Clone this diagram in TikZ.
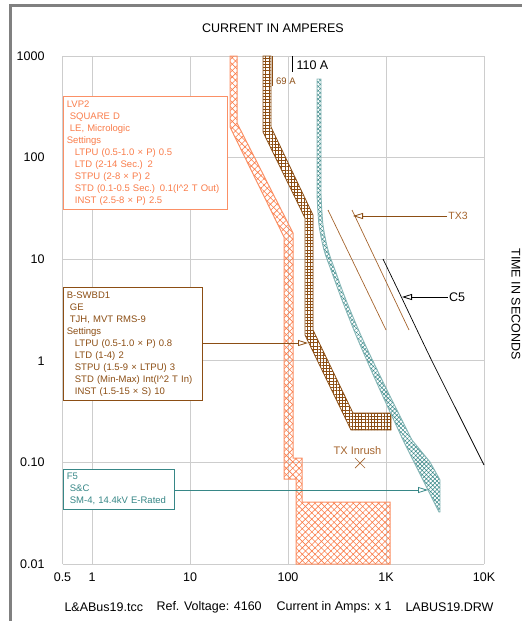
\documentclass[tikz,border=0pt]{standalone}
\usepackage{fontspec}
\setmainfont{Liberation Sans}
\usetikzlibrary{patterns.meta}
\usetikzlibrary{arrows.meta}
\definecolor{lvpcol}{RGB}{250,125,75}
\definecolor{swbdcol}{RGB}{140,78,20}
\definecolor{fcol}{RGB}{55,135,135}
\definecolor{txcol}{RGB}{165,100,45}
\definecolor{gridcol}{RGB}{205,205,205}
\tikzset{gridline/.style={draw=gridcol, line width=0.8pt},
 setbox/.style={draw, fill=white, line width=0.8pt, align=left, anchor=north west,
   inner xsep=3.5pt, inner ysep=4pt, font=\fontsize{9.5}{12}\selectfont},
 axlabel/.style={font=\fontsize{12.5}{14}\selectfont},
 tag/.style={-{Triangle[open, length=10pt, width=6pt]}, line width=0.8pt},
 }

\begin{document}
\begin{tikzpicture}[x=1pt, y=-1pt]
        \useasboundingbox (0,0) rectangle (522,621);
        \draw[gray, line width=2.2pt] (10.5,621) -- (10.5,5.5) -- (522,5.5);

        % grid
        \foreach \x in {62.5, 92, 190, 288, 386, 484} {
            \draw[gridline] (\x, 56) -- (\x, 564);
        }
        \foreach \y in {56, 157.6, 259.2, 360.8, 462.4, 564} {
            \draw[gridline] (62.5, \y) -- (484, \y);
        }
        \foreach \y/\t[count=\i] in {56/1000, 157.6/100, 259.2/10, 360.8/1, 462.4/0.10, 564/0.01} {
            \node[axlabel, anchor=east] (ylab\i) at (48, \y) {\t};
        }
        \foreach \x/\t[count=\i] in {62.5/0.5, 92/1, 190/10, 288/100, 386/1K, 484/10K} {
            \node[axlabel] (xlab\i) at (\x, 577) {\t};
        }
        \node[axlabel] (xtitle) at (273, 28) {CURRENT IN AMPERES};
        \node[axlabel, rotate=-90] (ytitle) at (516, 304) {TIME IN SECONDS};

        \node[axlabel, anchor=west] (foot1) at (61, 607) {L\&ABus19.tcc};
        \node[axlabel, anchor=west] (foot2) at (153, 607) {Ref. Voltage: 4160};
        \node[axlabel, anchor=west] (foot3) at (273, 607) {Current in Amps: x 1};
        \node[axlabel, anchor=west] (foot4) at (402, 607) {LABUS19.DRW};

        % LVP2
        \draw[lvpcol!85, line width=1pt, pattern={Hatch[angle=45, distance=4.5pt, line width=0.6pt]}, pattern color=lvpcol]
            (230,56) -- (230,127) -- (284,237) -- (284,479) -- (296,479) -- (296,564) -- (390,564)
            -- (390,502) -- (302,502) -- (302,458) -- (293,458) -- (293,233) -- (237,123) -- (237,56) -- cycle;

        % B-SWBD1
        \draw[swbdcol, line width=0.8pt, pattern={Hatch[angle=0, distance=3.2pt, line width=0.5pt]}, pattern color=swbdcol]
            (263,56) -- (263,132) -- (305,218) -- (305,335) -- (351,430) -- (391,430) -- (391,413)
            -- (353,413) -- (313,330) -- (313,215) -- (271,127) -- (271,56) -- cycle;

        % F5
        \draw[fcol!60, line width=0.9pt, pattern={Hatch[angle=45, distance=3pt, line width=0.5pt]}, pattern color=fcol]
            (317,79) -- plot[smooth] coordinates {(317,195) (319,225) (324,250) (331,270) (342,300) (358,340) (380,390) (403,440)}
            -- (439,512) -- (440,512) -- (440,480) -- (430,462)
            -- plot[smooth] coordinates {(412,440) (387,390) (363,340) (346,300) (335,270) (328,250) (323,225) (321,195)}
            -- (321,79) -- cycle;

        % TX3 and C5
        \draw[txcol, line width=0.7pt] (328,210) -- (386,330);
        \draw[txcol, line width=0.7pt] (352,210) -- (409,330);
        \draw[line width=0.7pt] plot[smooth] coordinates {(383,259) (398,290) (430,357) (460,417) (484,465)};

        % marks
        \draw[line width=0.8pt] (292,56) -- (292,72);
        \node[axlabel, anchor=west] (amp110) at (293,65) {110 A};
        \draw[swbdcol, line width=0.8pt] (272,56) -- (272,86);
        \node[swbdcol, anchor=west, font=\fontsize{9.5}{12}\selectfont, inner sep=1pt] (amp69) at (275,81) {69 A};
        \draw[txcol, line width=0.7pt] (355,458) -- (365,468) (355,468) -- (365,458);
        \node[txcol, font=\fontsize{11}{13}\selectfont] (inrush) at (357.5,451) {TX Inrush};

        % setting boxes
        \node[setbox, draw=lvpcol!85, text=lvpcol, text width=157pt] (lvp) at (63,96)
            {LVP2\\\hspace*{3pt}SQUARE D\\\hspace*{3pt}LE, Micrologic\\Settings\\
             \hspace*{8pt}LTPU (0.5-1.0 × P) 0.5\\\hspace*{8pt}LTD (2-14 Sec.) 2\\
             \hspace*{8pt}STPU (2-8 × P) 2\\\hspace*{8pt}STD (0.1-0.5 Sec.) 0.1(I\textasciicircum 2 T Out)\\
             \hspace*{8pt}INST (2.5-8 × P) 2.5};
        \node[setbox, draw=swbdcol, text=swbdcol, text width=132pt] (swbd) at (63,287)
            {B-SWBD1\\\hspace*{3pt}GE\\\hspace*{3pt}TJH, MVT RMS-9\\Settings\\
             \hspace*{8pt}LTPU (0.5-1.0 × P) 0.8\\\hspace*{8pt}LTD (1-4) 2\\
             \hspace*{8pt}STPU (1.5-9 × LTPU) 3\\\hspace*{8pt}STD (Min-Max) Int(I\textasciicircum 2 T In)\\
             \hspace*{8pt}INST (1.5-15 × S) 10};
        \node[setbox, draw=fcol, text=fcol, text width=104pt] (fuse) at (63,469)
            {F5\\\hspace*{3pt}S\&C\\\hspace*{3pt}SM-4, 14.4kV E-Rated};

        \node[txcol, font=\fontsize{10.5}{12}\selectfont, inner sep=1pt] (tx) at (458,216) {TX3};
        \node[axlabel, inner sep=1pt] (cap) at (457,297) {C5};

        \coordinate (swbdtip) at (308,343);
        \coordinate (fusetip) at (428,490);
        \coordinate (txtip) at (353,216);
        \coordinate (captip) at (402,297);
        \draw[tag, swbdcol] (swbd.east |- swbdtip) -- (swbdtip);
        \draw[tag, fcol] (fuse.east |- fusetip) -- (fusetip);
        \draw[tag, swbdcol] (tx) -- (txtip);
        \draw[tag] (cap) -- (captip);
\end{tikzpicture}
\end{document}
